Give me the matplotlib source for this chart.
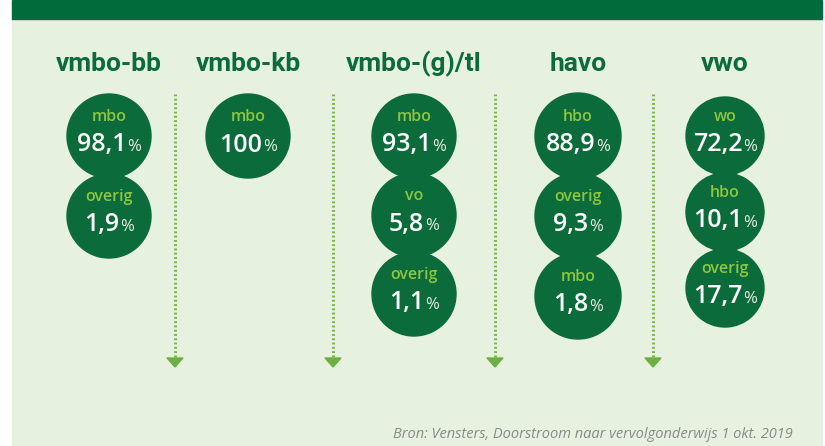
import matplotlib.pyplot as plt
from matplotlib.patches import Circle, Rectangle, Polygon

# data
schooltypes = ['vmbo-bb', 'vmbo-kb', 'vmbo-(g)/tl', 'havo', 'vwo']
destinations = [['mbo', 'overig'],
                ['mbo'],
                ['mbo', 'vo', 'overig'],
                ['hbo', 'overig', 'mbo'],
                ['wo', 'hbo', 'overig']]
shares = [[98.1, 1.9],
          [100],
          [93.1, 5.8, 1.1],
          [88.9, 9.3, 1.8],
          [72.2, 10.1, 17.7]]
source = 'Bron: Vensters, Doorstroom naar vervolgonderwijs 1 okt. 2019'

# layout (pixels)
W, H = 825, 446
col_x = [109, 248, 414, 578, 725]
first_y = 136
step = [80, 80, 79, 80, 76]
radius = [42, 42, 42, 43, 39]
divider_x = [175, 333, 495, 653]

DARK = '#0b6b3b'
LIGHT = '#8dc63f'
BG = '#e7f1e0'
DOT = '#7bb64c'

fig = plt.figure(figsize=(W / 100, H / 100), dpi=100)
ax = fig.add_axes([0, 0, 1, 1])
ax.set_xlim(0, W)
ax.set_ylim(H, 0)
ax.axis('off')

ax.add_patch(Rectangle((12, 0), 810, H, color=BG, zorder=0))
ax.add_patch(Rectangle((12, 0), 810, 19, color='#006b3b', zorder=1))

for x, name in zip(col_x, schooltypes):
    ax.text(x, 64, name, ha='center', va='center', fontsize=19, fontweight='bold',
            color=DARK, family=['Roboto', 'DejaVu Sans'])

for x in divider_x:
    ax.plot([x, x], [94, 357], color=DOT, lw=2.2, ls=(0, (0.6, 0.8)), zorder=2)
    ax.add_patch(Polygon([[x - 8, 358], [x + 8, 358], [x, 367]], closed=True,
                         color='#6cb043', zorder=2))

fig.canvas.draw()
renderer = fig.canvas.get_renderer()

for i, x in enumerate(col_x):
    r = radius[i]
    for j, (lab, val) in enumerate(zip(destinations[i], shares[i])):
        cy = first_y + j * step[i]
        ax.add_patch(Circle((x, cy), r, color=DARK, zorder=3))
        ax.text(x, cy - 19, lab, ha='center', va='center', fontsize=11.5,
                fontweight='semibold', color=LIGHT, family='Open Sans', zorder=4)
        txt = f'{val:g}'.replace('.', ',')
        t1 = ax.text(0, cy + 9, txt, ha='left', va='center', fontsize=18,
                     fontweight='semibold', color='white', family='Open Sans', zorder=4)
        t2 = ax.text(0, cy + 11, '%', ha='left', va='center', fontsize=12,
                     color='#e8efe6', family='Open Sans', zorder=4)
        w1 = t1.get_window_extent(renderer).width
        w2 = t2.get_window_extent(renderer).width
        x0 = x - (w1 + w2 + 1) / 2
        t1.set_x(x0)
        t2.set_x(x0 + w1 + 1)

ax.text(393, 442, source, ha='left', va='bottom', fontsize=10.5, style='italic',
        color='#8a8a8a', family='Open Sans')

fig.savefig('out.png', dpi=100, facecolor='white')
